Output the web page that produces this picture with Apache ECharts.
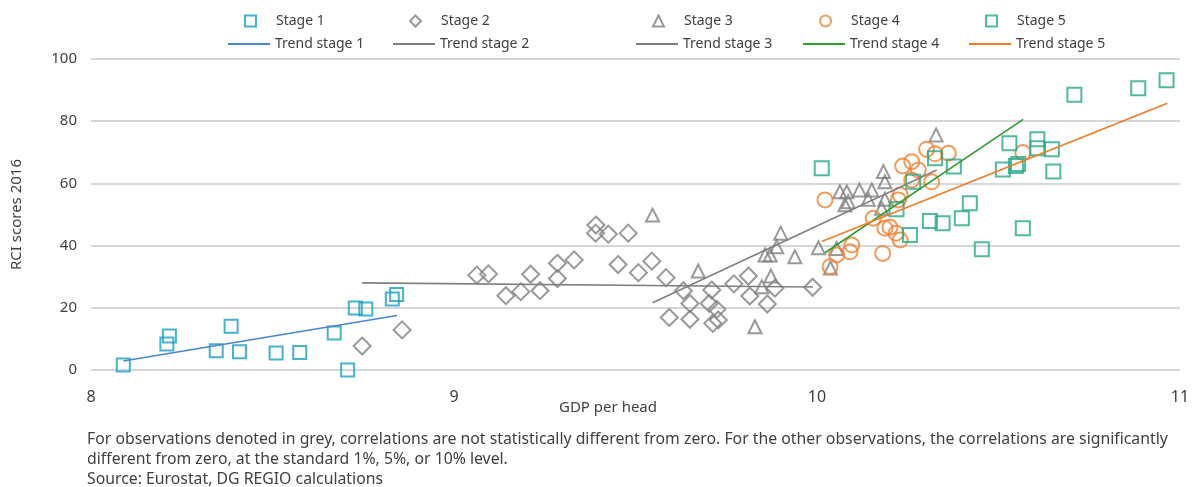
<!DOCTYPE html>
<html>
<head>
<meta charset="utf-8">
<script src="https://cdn.jsdelivr.net/npm/echarts@6/dist/echarts.min.js"></script>
<style>
html,body{margin:0;padding:0;background:#fff;}
#c{width:1195px;height:487px;}
</style>
</head>
<body>
<div id="c"></div>
<script>
// ---- data (GDP per head [log], RCI score) ----
const stage1 = [[8.089,1.6],[8.209,8.4],[8.216,10.9],[8.345,6.2],[8.386,14.1],[8.409,5.9],[8.510,5.5],[8.575,5.6],[8.670,11.9],[8.707,0.0],[8.728,19.9],[8.757,19.6],[8.830,22.8],[8.842,24.3]];
const stage2 = [[8.747,7.7],[8.857,12.9],[9.063,30.5],[9.095,30.9],[9.143,23.9],[9.184,25.2],[9.211,30.8],[9.237,25.5],[9.285,34.3],[9.285,29.4],[9.331,35.4],[9.391,46.6],[9.390,44.0],[9.425,43.7],[9.480,44.0],[9.452,33.9],[9.508,31.3],[9.545,35.0],[9.584,29.7],[9.593,16.9],[9.632,25.5],[9.650,21.4],[9.650,16.3],[9.710,25.7],[9.703,21.4],[9.724,19.5],[9.713,15.0],[9.728,16.1],[9.771,27.7],[9.811,30.2],[9.815,23.8],[9.863,21.2],[9.884,26.3],[9.988,26.6]];
const stage3 = [[9.547,49.8],[9.673,31.8],[9.829,13.9],[9.900,44.0],[9.889,39.6],[9.871,37.0],[9.857,37.0],[9.939,36.4],[9.873,30.2],[9.848,26.8],[10.004,39.3],[10.054,39.1],[10.037,32.8],[10.063,57.3],[10.082,57.3],[10.077,53.1],[10.086,54.1],[10.117,57.9],[10.151,57.9],[10.141,54.9],[10.187,54.9],[10.178,52.0],[10.183,63.8],[10.187,60.5],[10.328,75.6]];
const stage4 = [[10.022,54.7],[10.036,33.2],[10.054,37.0],[10.091,38.0],[10.096,40.2],[10.155,48.8],[10.181,37.5],[10.187,45.6],[10.201,45.9],[10.218,44.0],[10.229,41.8],[10.224,54.7],[10.229,56.3],[10.236,65.6],[10.261,67.0],[10.279,64.3],[10.261,61.1],[10.302,71.0],[10.325,69.5],[10.362,69.7],[10.316,60.5],[10.567,69.9]];
const stage5 = [[10.013,64.9],[10.219,51.7],[10.256,43.4],[10.265,60.5],[10.311,47.9],[10.325,68.1],[10.346,47.2],[10.377,65.4],[10.399,48.8],[10.421,53.6],[10.454,38.8],[10.512,64.5],[10.530,72.9],[10.548,65.6],[10.554,66.2],[10.567,45.6],[10.607,74.2],[10.607,71.3],[10.647,71.0],[10.651,63.8],[10.709,88.5],[10.885,90.6],[10.963,93.2]];
const trend1 = [[8.089,2.9],[8.843,17.5]];
const trend2 = [[8.747,28.0],[9.989,26.7]];
const trend3 = [[9.547,21.6],[10.330,64.3]];
const trend4 = [[10.022,37.7],[10.568,80.6]];
const trend5 = [[10.013,41.3],[10.965,85.8]];
const xTicks = [8, 9, 10, 11];
const yTicks = [0, 20, 40, 60, 80, 100];
const seriesNames = ['Stage 1','Stage 2','Stage 3','Stage 4','Stage 5'];
const trendNames = ['Trend stage 1','Trend stage 2','Trend stage 3','Trend stage 4','Trend stage 5'];
const xAxisTitle = 'GDP per head';
const yAxisTitle = 'RCI scores 2016';
const footLines = [
  'For observations denoted in grey, correlations are not statistically different from zero. For the other observations, the correlations are significantly',
  'different from zero, at the standard 1%, 5%, or 10% level.',
  'Source: Eurostat, DG REGIO calculations'
];

const FONT = 'Noto Sans';
const TXT = '#404040';
const colS1 = '#1a9dbf', colGrey = '#808080', colS4 = '#ee8233', colS5 = '#27a688';
const colT1 = '#4a86c8', colT4 = '#339933', colT5 = '#ee7d2b';

function scatter(name, data, symbol, size, color){
  return {name, type:'scatter', data, symbol, symbolSize:size, z:3,
    itemStyle:{color:'rgba(0,0,0,0)', borderColor:color, borderWidth:2}};
}
function trend(name, data, color){
  return {name, type:'line', data, symbol:'none', z:4, silent:true,
    lineStyle:{color, width:1.6}, itemStyle:{color}};
}

const legendX = [228, 393, 636, 803, 969];
const trendColors = [colT1, colGrey, colGrey, colT4, colT5];
const legends = [];
legendX.forEach((x,i)=>{
  legends.push({
    left:x+16, top:14, padding:0, itemWidth:11, itemHeight:11, selectedMode:false,
    data:[seriesNames[i]],
    textStyle:{fontFamily:FONT, fontSize:14, color:TXT, padding:[0,0,0,15]}
  });
  legends.push({
    left:x, top:37, padding:0, itemWidth:42, itemHeight:2, selectedMode:false,
    data:[{name:trendNames[i], icon:'rect', itemStyle:{color:trendColors[i]}}],
    textStyle:{fontFamily:FONT, fontSize:14, color:TXT}
  });
});

const chart = echarts.init(document.getElementById('c'));
chart.setOption({
  animation:false,
  textStyle:{fontFamily:FONT},
  grid:{left:91, right:15, top:59, bottom:117},
  legend: legends,
  xAxis:{type:'value', min:xTicks[0], max:xTicks[xTicks.length-1], interval:1,
    axisLine:{show:false}, axisTick:{show:false}, splitLine:{show:false},
    axisLabel:{color:TXT, fontSize:16, margin:19, fontFamily:FONT}},
  yAxis:{type:'value', min:yTicks[0], max:yTicks[yTicks.length-1], interval:20,
    name:yAxisTitle, nameLocation:'middle', nameGap:67,
    nameTextStyle:{color:TXT, fontSize:15, fontFamily:FONT},
    axisLine:{show:false}, axisTick:{show:false},
    splitLine:{lineStyle:{color:'#c9c9c9', width:1.6}},
    axisLabel:{color:TXT, fontSize:15, margin:14, fontFamily:FONT}},
  graphic:[
    {type:'text', x:608, y:408, style:{text:xAxisTitle, fill:TXT, font:'15px "Noto Sans"', align:'center', verticalAlign:'middle'}},
    {type:'text', left:87, top:429, style:{text:footLines.join('\n'), fill:TXT, font:'15.8px "Noto Sans"', lineHeight:20}}
  ],
  series:[
    scatter(seriesNames[0], stage1, 'rect', 13, colS1),
    scatter(seriesNames[1], stage2, 'diamond', 17, colGrey),
    scatter(seriesNames[2], stage3, 'triangle', 13, colGrey),
    scatter(seriesNames[3], stage4, 'circle', 15, colS4),
    scatter(seriesNames[4], stage5, 'rect', 14, colS5),
    trend(trendNames[0], trend1, colT1),
    trend(trendNames[1], trend2, colGrey),
    trend(trendNames[2], trend3, colGrey),
    trend(trendNames[3], trend4, colT4),
    trend(trendNames[4], trend5, colT5)
  ]
});
</script>
</body>
</html>
